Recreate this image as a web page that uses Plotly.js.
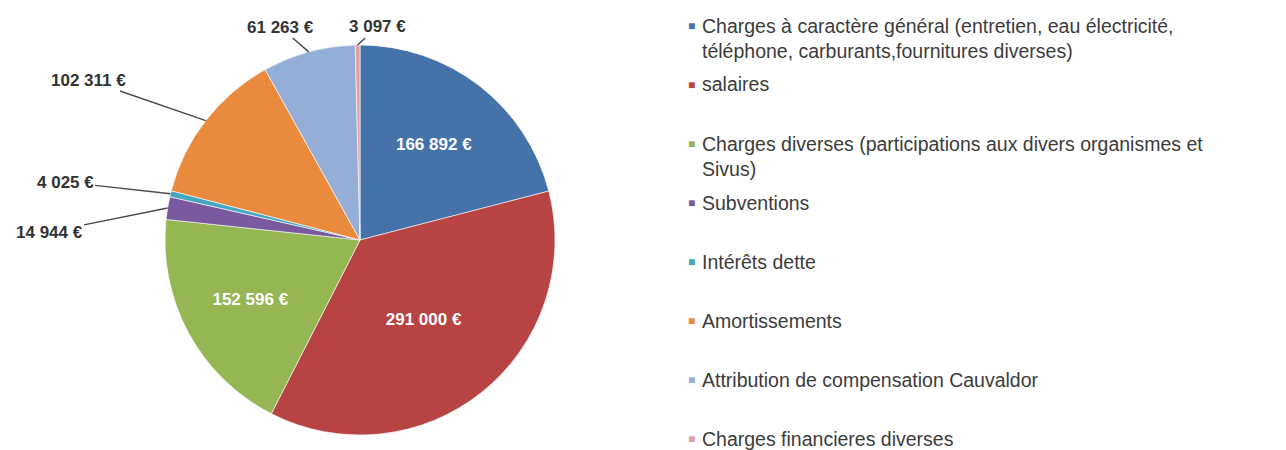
<!DOCTYPE html>
<html>
<head>
<meta charset="utf-8">
<script src="https://cdn.plot.ly/plotly-3.0.1.min.js"></script>
<style>html,body{margin:0;padding:0;background:#fff;}#chart{width:1286px;height:450px;}</style>
</head>
<body>
<div id="chart"></div>
<script>
// ---- data ----
const labels = [
  "Charges à caractère général (entretien, eau électricité,<br>téléphone, carburants,fournitures diverses)",
  "salaires",
  "Charges diverses (participations aux divers organismes et<br>Sivus)",
  "Subventions",
  "Intérêts dette",
  "Amortissements",
  "Attribution de compensation Cauvaldor",
  "Charges financieres diverses"
];
const values = [166892, 291000, 152596, 14944, 4025, 102311, 61263, 3097];
const colors = ["#4672AA", "#B84343", "#94B653", "#7A5A9E", "#45A6C0", "#E98A3C", "#94AED8", "#E3A0A3"];
const labelMode = ["inside", "inside", "inside", "outside", "outside", "outside", "outside", "outside"];

// ---- layout constants (pixels) ----
const W = 1286, H = 450;
const CX = 360, CY = 240, R = 195;
// outside label centres (pixels), by slice index
const outsidePos = {3: [49, 232], 4: [65, 182], 5: [88, 80], 6: [280, 27], 7: [377, 27]};
const LEG_X = 692, LEG_TEXT_X = 700, LEG_Y0 = 26, LEG_STEP = 59;
const FONT = "Liberation Sans, Arial, sans-serif";

const fmt = v => Math.round(v).toString().replace(/\B(?=(\d{3})+(?!\d))/g, " ") + " €";

const total = values.reduce((a, b) => a + b, 0);
const annotations = [];
let cum = 0;
values.forEach((v, i) => {
  const mid = (cum + v / 2) / total * 2 * Math.PI;
  cum += v;
  if (labelMode[i] === "outside") {
    const tx = CX + R * Math.sin(mid), ty = CY - R * Math.cos(mid);
    const [lx, ly] = outsidePos[i];
    annotations.push({
      xref: "paper", yref: "paper", x: tx / W, y: 1 - ty / H,
      ax: lx - tx, ay: ly - ty, axref: "pixel", ayref: "pixel",
      text: fmt(v), showarrow: true, arrowhead: 0, arrowwidth: 1.4, arrowcolor: "#4a4a4a",
      standoff: 0, startstandoff: 0,
      font: {family: FONT, size: 17, color: "#333333", weight: "bold"}
    });
  }
});

// legend built from labels / colors
labels.forEach((lab, i) => {
  const yc = LEG_Y0 + i * LEG_STEP;
  annotations.push({
    xref: "paper", yref: "paper", x: LEG_X / W, y: 1 - yc / H,
    xanchor: "center", yanchor: "middle", showarrow: false,
    text: "■", font: {family: FONT, size: 12, color: colors[i]}
  });
  annotations.push({
    xref: "paper", yref: "paper", x: LEG_TEXT_X / W, y: 1 - (yc - 13.5) / H,
    xanchor: "left", yanchor: "top", align: "left", showarrow: false,
    text: lab, font: {family: FONT, size: 19.5, color: "#3c3c3c"}
  });
});

const trace = {
  type: "pie",
  labels: labels,
  values: values,
  sort: false,
  direction: "clockwise",
  rotation: 0,
  marker: {colors: colors, line: {color: "rgba(255,255,255,0.6)", width: 1}},
  textposition: labelMode.map(m => m === "inside" ? "inside" : "none"),
  texttemplate: values.map(v => fmt(v)),
  insidetextorientation: "horizontal",
  insidetextfont: {family: FONT, size: 17, color: "#ffffff", weight: "bold"},
  hoverinfo: "none",
  showlegend: false,
  automargin: false,
  domain: {x: [(CX - R) / W, (CX + R) / W], y: [1 - (CY + R) / H, 1 - (CY - R) / H]}
};

const layout = {
  width: W, height: H,
  margin: {l: 0, r: 0, t: 0, b: 0},
  paper_bgcolor: "#ffffff",
  showlegend: false,
  annotations: annotations
};

Plotly.newPlot("chart", [trace], layout, {displayModeBar: false, staticPlot: true});
</script>
</body>
</html>
